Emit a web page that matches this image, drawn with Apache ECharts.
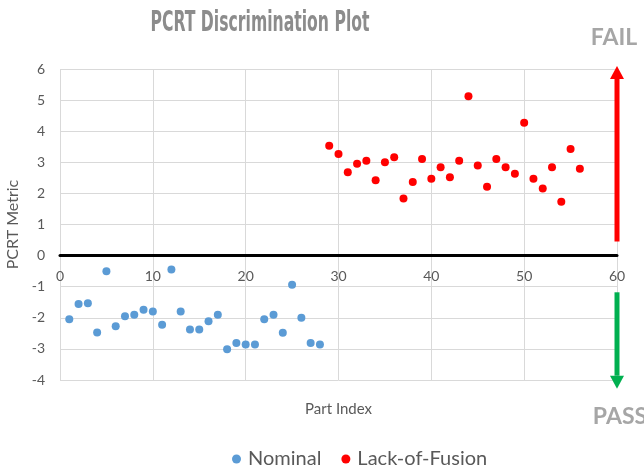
<!DOCTYPE html>
<html><head><meta charset="utf-8">
<script src="https://cdn.jsdelivr.net/npm/echarts@6/dist/echarts.min.js"></script>
<style>html,body{margin:0;padding:0;background:#fff}#c{width:644px;height:466px}</style>
</head><body><div id="c"></div>
<script>
const nominalX = [1,2,3,4,5,6,7,8,9,10,11,12,13,14,15,16,17,18,19,20,21,22,23,24,25,26,27,28];
const nominalY = [-2.05,-1.56,-1.53,-2.47,-0.50,-2.27,-1.95,-1.90,-1.74,-1.80,-2.22,-0.45,-1.80,-2.38,-2.38,-2.11,-1.90,-3.01,-2.81,-2.86,-2.86,-2.05,-1.90,-2.48,-0.94,-2.00,-2.81,-2.86];
const lofX = [29,30,31,32,33,34,35,36,37,38,39,40,41,42,43,44,45,46,47,48,49,50,51,52,53,54,55,56];
const lofY = [3.53,3.27,2.68,2.95,3.05,2.42,3.00,3.16,1.84,2.37,3.11,2.47,2.84,2.52,3.05,5.12,2.90,2.21,3.11,2.84,2.63,4.27,2.47,2.16,2.84,1.73,3.43,2.79];
const seriesNames = ['Nominal','Lack-of-Fusion'];
const titleText = 'PCRT Discrimination Plot';
const failArrow = {x: 60, from: 0.45, to: 6.1};
const passArrow = {x: 60, from: -1.18, to: -4.28};

const chart = echarts.init(document.getElementById('c'));
const pts = (xs, ys) => xs.map((x, i) => [x, ys[i]]);
const lab = '#595959';
chart.setOption({
  animation: false,
  textStyle: {fontFamily: 'Lato'},
  grid: {left: 60, right: 27, top: 69, bottom: 86, containLabel: false, outerBoundsMode: 'none'},
  xAxis: {
    type: 'value', min: 0, max: 60, interval: 10,
    name: 'Part Index', nameLocation: 'middle', nameGap: 22,
    nameTextStyle: {color: lab, fontSize: 15, fontFamily: 'Lato'},
    axisLine: {onZero: true, lineStyle: {color: '#000', width: 3}},
    axisTick: {show: false},
    axisLabel: {color: lab, fontSize: 14, margin: -111, fontFamily: 'Lato'},
    splitLine: {show: true, lineStyle: {color: '#d9d9d9', width: 1}}
  },
  yAxis: {
    type: 'value', min: -4, max: 6, interval: 1,
    name: 'PCRT Metric', nameLocation: 'middle', nameGap: 35,
    nameTextStyle: {color: lab, fontSize: 16, fontFamily: 'Lato'},
    axisLine: {show: false},
    axisTick: {show: false},
    axisLabel: {color: lab, fontSize: 14, margin: 15, fontFamily: 'Lato'},
    splitLine: {show: true, lineStyle: {color: '#d9d9d9', width: 1}}
  },
  legend: {
    top: 444, left: 227, itemWidth: 9, itemHeight: 9, itemGap: 20,
    textStyle: {color: lab, fontSize: 20, fontFamily: 'Lato', padding: [0, 0, 0, 2]},
    data: [{name: seriesNames[0], icon: 'circle'}, {name: seriesNames[1], icon: 'circle'}]
  },
  series: [
    {name: seriesNames[0], type: 'scatter', symbolSize: 8, itemStyle: {color: '#5b9bd5', opacity: 1}, data: pts(nominalX, nominalY)},
    {name: seriesNames[1], type: 'scatter', symbolSize: 8, itemStyle: {color: '#ff0000', opacity: 1}, data: pts(lofX, lofY)}
  ]
});

function arrow(a, color) {
  const t = chart.convertToPixel({gridIndex: 0}, [a.x, a.from]);
  const h = chart.convertToPixel({gridIndex: 0}, [a.x, a.to]);
  const dir = h[1] < t[1] ? -1 : 1;
  const headLen = 13, headHalf = 7;
  const base = h[1] - dir * headLen;
  return [
    {type: 'line', shape: {x1: t[0], y1: t[1], x2: h[0], y2: base}, style: {stroke: color, lineWidth: 5}, z: 100},
    {type: 'polygon', shape: {points: [[h[0], h[1]], [h[0] - headHalf, base], [h[0] + headHalf, base]]}, style: {fill: color}, z: 100}
  ];
}
chart.setOption({
  graphic: [
    {type: 'text', x: 260, y: 23, scaleX: 0.6, z: 100, silent: true,
     style: {text: titleText, fontFamily: 'DejaVu Sans Condensed', fontWeight: 'bold', fontSize: 29, fill: '#8c8c8c', align: 'center', verticalAlign: 'middle'}},
    {type: 'text', x: 614, y: 38, style: {text: 'FAIL', fontFamily: 'Lato', fontWeight: 'bold', fontSize: 23, fill: '#a6a6a6', align: 'center', verticalAlign: 'middle'}},
    {type: 'text', x: 620, y: 417, style: {text: 'PASS', fontFamily: 'Lato', fontWeight: 'bold', fontSize: 23, fill: '#a6a6a6', align: 'center', verticalAlign: 'middle'}},
    ...arrow(failArrow, '#ff0000'),
    ...arrow(passArrow, '#00b050')
  ]
});
</script></body></html>
